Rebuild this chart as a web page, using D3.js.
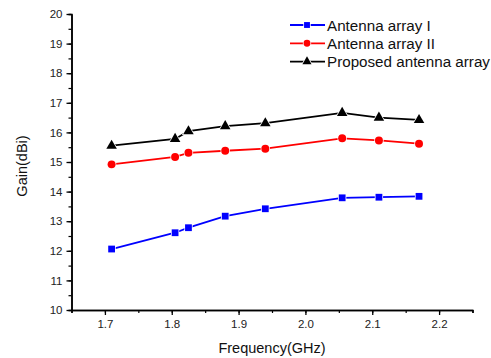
<!DOCTYPE html>
<html>
<head>
<meta charset="utf-8">
<script src="https://cdn.jsdelivr.net/npm/d3@7/dist/d3.min.js"></script>
<style>
  html, body { margin: 0; padding: 0; background: #fff; }
  svg { display: block; font-family: "Liberation Sans", Arial, sans-serif; }
</style>
</head>
<body>
<svg id="chart" width="491" height="358"></svg>
<script>
// Measured gain versus frequency for three antenna arrays
const frequency = [1.71, 1.805, 1.825, 1.88, 1.94, 2.055, 2.11, 2.17];
const gainArrayI = [12.06, 12.61, 12.78, 13.17, 13.42, 13.79, 13.81, 13.84];
const gainArrayII = [14.92, 15.17, 15.31, 15.38, 15.45, 15.80, 15.73, 15.62];
const gainProposed = [15.55, 15.78, 16.04, 16.21, 16.31, 16.66, 16.50, 16.42];
const seriesNames = ["Antenna array I", "Antenna array II", "Proposed antenna array"];
const xTicks = [1.7, 1.8, 1.9, 2.0, 2.1, 2.2];
const yTicks = [10, 11, 12, 13, 14, 15, 16, 17, 18, 19, 20];

const svg = d3.select("#chart");
const margin = { left: 71.5, right: 18.5, top: 14, bottom: 48 };
const W = 491, H = 358;

const x = d3.scaleLinear().domain([1.65, 2.25]).range([margin.left, W - margin.right]);
const y = d3.scaleLinear().domain([10, 20]).range([H - margin.bottom, margin.top]);

// Minor ticks
const xMinor = d3.range(1.65, 2.2501, 0.05);
const yMinor = d3.range(10, 20.001, 0.5);

const gx = svg.append("g").attr("transform", `translate(0,${y(10)})`);
gx.call(d3.axisBottom(x).tickValues(xMinor).tickSize(3).tickFormat(""));
gx.call(g => g.selectAll(".tick line").attr("stroke-width", 1.2));
const gx2 = svg.append("g").attr("transform", `translate(0,${y(10)})`)
  .call(d3.axisBottom(x).tickValues(xTicks).tickSize(5).tickSizeOuter(0).tickPadding(5).tickFormat(d3.format(".1f")));
gx2.selectAll("text").attr("font-size", 11.5).attr("fill", "#222").attr("font-family", "Liberation Sans, Arial, sans-serif");
gx2.selectAll(".tick line").attr("stroke-width", 1.3);
[gx, gx2].forEach(g => g.select(".domain").attr("stroke-width", 1.5));

const gy = svg.append("g").attr("transform", `translate(${x(1.65)},0)`);
gy.call(d3.axisLeft(y).tickValues(yMinor).tickSize(3).tickFormat(""));
gy.selectAll(".tick line").attr("stroke-width", 1.2);
const gy2 = svg.append("g").attr("transform", `translate(${x(1.65)},0)`)
  .call(d3.axisLeft(y).tickValues(yTicks).tickSize(5).tickSizeOuter(0).tickPadding(4).tickFormat(d3.format("d")));
gy2.selectAll("text").attr("font-size", 11.5).attr("fill", "#222").attr("font-family", "Liberation Sans, Arial, sans-serif");
gy2.selectAll(".tick line").attr("stroke-width", 1.3);
[gy, gy2].forEach(g => g.select(".domain").attr("stroke-width", 1.5));

// Axis titles
svg.append("text")
  .attr("x", (x(1.65) + x(2.25)) / 2).attr("y", 353)
  .attr("text-anchor", "middle").attr("font-size", 14.5).attr("fill", "#111")
  .text("Frequency(GHz)");
svg.append("text")
  .attr("transform", `translate(27,${(y(10) + y(20)) / 2 + 4}) rotate(-90)`)
  .attr("text-anchor", "middle").attr("font-size", 14.5).attr("fill", "#111")
  .text("Gain(dBi)");

const series = [
  { name: seriesNames[0], values: gainArrayI, color: "#0000ff", marker: "square" },
  { name: seriesNames[1], values: gainArrayII, color: "#ff0000", marker: "circle" },
  { name: seriesNames[2], values: gainProposed, color: "#000000", marker: "triangle" }
];

const symbolType = { square: d3.symbolSquare, circle: d3.symbolCircle, triangle: d3.symbolTriangle };
const symbolSize = { square: 46, circle: 50, triangle: 48 };

const line = d3.line().x(d => x(d[0])).y(d => y(d[1]));

series.forEach(s => {
  const pts = frequency.map((f, i) => [f, s.values[i]]);
  svg.append("path").datum(pts)
    .attr("d", line).attr("fill", "none")
    .attr("stroke", s.color).attr("stroke-width", 1.8);
  svg.append("g").selectAll("path").data(pts).join("path")
    .attr("transform", d => `translate(${x(d[0])},${y(d[1])})`)
    .attr("d", d3.symbol().type(symbolType[s.marker]).size(symbolSize[s.marker]))
    .attr("fill", s.color).attr("stroke", "#fff").attr("stroke-width", 1.5)
    .attr("paint-order", "stroke");
});

// Legend
const legend = svg.append("g").attr("transform", "translate(290,25)");
series.forEach((s, i) => {
  const row = legend.append("g").attr("transform", `translate(0,${i * 18.3})`);
  row.append("line").attr("x1", 0).attr("x2", 35).attr("y1", 0).attr("y2", 0)
    .attr("stroke", s.color).attr("stroke-width", 1.8);
  row.append("path")
    .attr("transform", "translate(17,0)")
    .attr("d", d3.symbol().type(symbolType[s.marker]).size(symbolSize[s.marker] * 0.75))
    .attr("fill", s.color).attr("stroke", "#fff").attr("stroke-width", 1.5)
    .attr("paint-order", "stroke");
  row.append("text").attr("x", 37).attr("y", 5.5).attr("font-size", 15.2).attr("fill", "#111")
    .text(s.name);
});
</script>
</body>
</html>
